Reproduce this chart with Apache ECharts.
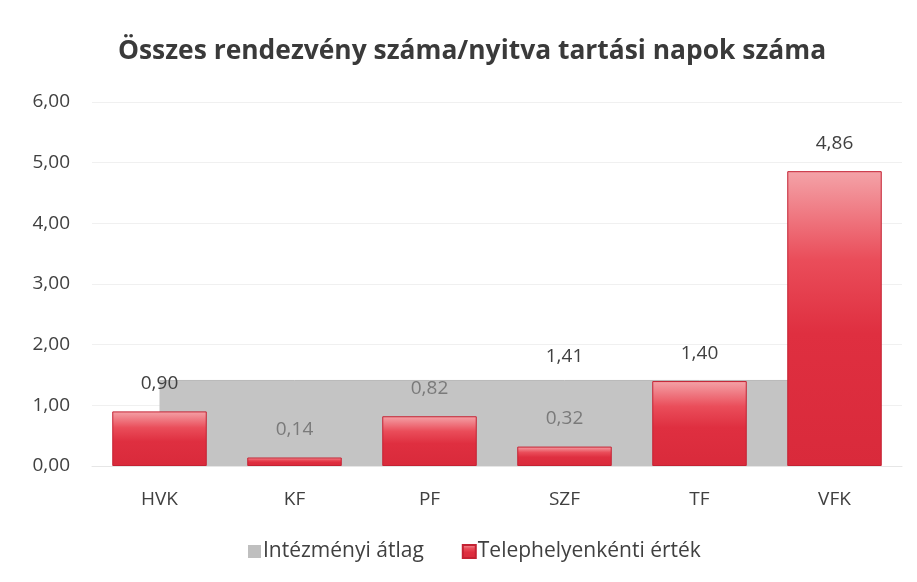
<!DOCTYPE html>
<html><head><meta charset="utf-8">
<script src="https://cdn.jsdelivr.net/npm/echarts@6/dist/echarts.min.js"></script>
<style>html,body{margin:0;padding:0;background:#fff}#c{width:917px;height:582px}</style>
</head><body><div id="c"></div>
<script>
const categories = ['HVK', 'KF', 'PF', 'SZF', 'TF', 'VFK'];
const siteValues = [0.90, 0.14, 0.82, 0.32, 1.40, 4.86];
const averageValues = [1.41, 1.41, 1.41, 1.41, 1.41, 1.41];
const yTicks = [0, 1, 2, 3, 4, 5, 6];
const seriesNames = ['Intézményi átlag', 'Telephelyenkénti érték'];
const titleText = 'Összes rendezvény száma/nyitva tartási napok száma';

const fmt = v => Number(v).toFixed(2).replace('.', ',');
const FONT = 'Open Sans';

const avgData = averageValues.map((v, i) => ({
  value: v,
  label: { show: i === 3 }
}));
const barData = siteValues.map(v => ({
  value: v,
  label: { color: v >= 0.85 ? '#404040' : '#7a7a7a' }
}));

const chart = echarts.init(document.getElementById('c'), null, { renderer: 'canvas' });
chart.setOption({
  animation: false,
  backgroundColor: '#ffffff',
  title: {
    text: titleText,
    left: 113,
    top: 33,
    textStyle: { fontFamily: FONT, fontSize: 26.4, fontWeight: 'bold', color: '#3a3a3a' }
  },
  legend: {
    top: 536,
    left: 243,
    itemWidth: 13,
    itemHeight: 13,
    itemGap: 38,
    icon: 'rect',
    textStyle: { fontFamily: FONT, fontSize: 21, color: '#404040', padding: [0, 0, 0, -3] },
    data: seriesNames
  },
  grid: { left: 92, right: 15, top: 102, bottom: 116, containLabel: false },
  xAxis: {
    type: 'category',
    data: categories,
    boundaryGap: true,
    axisLine: { show: true, lineStyle: { color: '#e6e6e6' } },
    axisTick: { show: false },
    axisLabel: { fontFamily: FONT, fontSize: 19, color: '#404040', margin: 24 }
  },
  yAxis: {
    type: 'value',
    min: yTicks[0],
    max: yTicks[yTicks.length - 1],
    interval: 1,
    axisLine: { show: false },
    axisTick: { show: false },
    splitLine: { lineStyle: { color: '#f0f0f0' } },
    axisLabel: { fontFamily: FONT, fontSize: 19, color: '#404040', margin: 22, formatter: fmt }
  },
  series: [
    {
      name: seriesNames[0],
      type: 'line',
      data: avgData,
      symbol: 'circle',
      symbolSize: 0,
      showSymbol: true,
      lineStyle: { width: 1, color: '#b8b8b8' },
      itemStyle: { color: '#bfbfbf' },
      areaStyle: { color: '#c4c4c4', opacity: 1 },
      z: 1,
      label: {
        position: 'top',
        distance: 14,
        formatter: p => fmt(p.value),
        fontFamily: FONT, fontSize: 19, color: '#404040'
      }
    },
    {
      name: seriesNames[1],
      type: 'bar',
      data: barData,
      barWidth: '70%',
      z: 3,
      itemStyle: {
        color: new echarts.graphic.LinearGradient(0, 0, 0, 1, [
          { offset: 0, color: '#f4a3a8' },
          { offset: 0.3, color: '#ea4d5a' },
          { offset: 0.55, color: '#df2f40' },
          { offset: 1, color: '#d92a3b' }
        ]),
        borderColor: '#c42233',
        borderWidth: 1
      },
      label: {
        show: true,
        position: 'top',
        distance: 18,
        formatter: p => fmt(p.value),
        fontFamily: FONT, fontSize: 19
      }
    }
  ]
});
</script></body></html>
